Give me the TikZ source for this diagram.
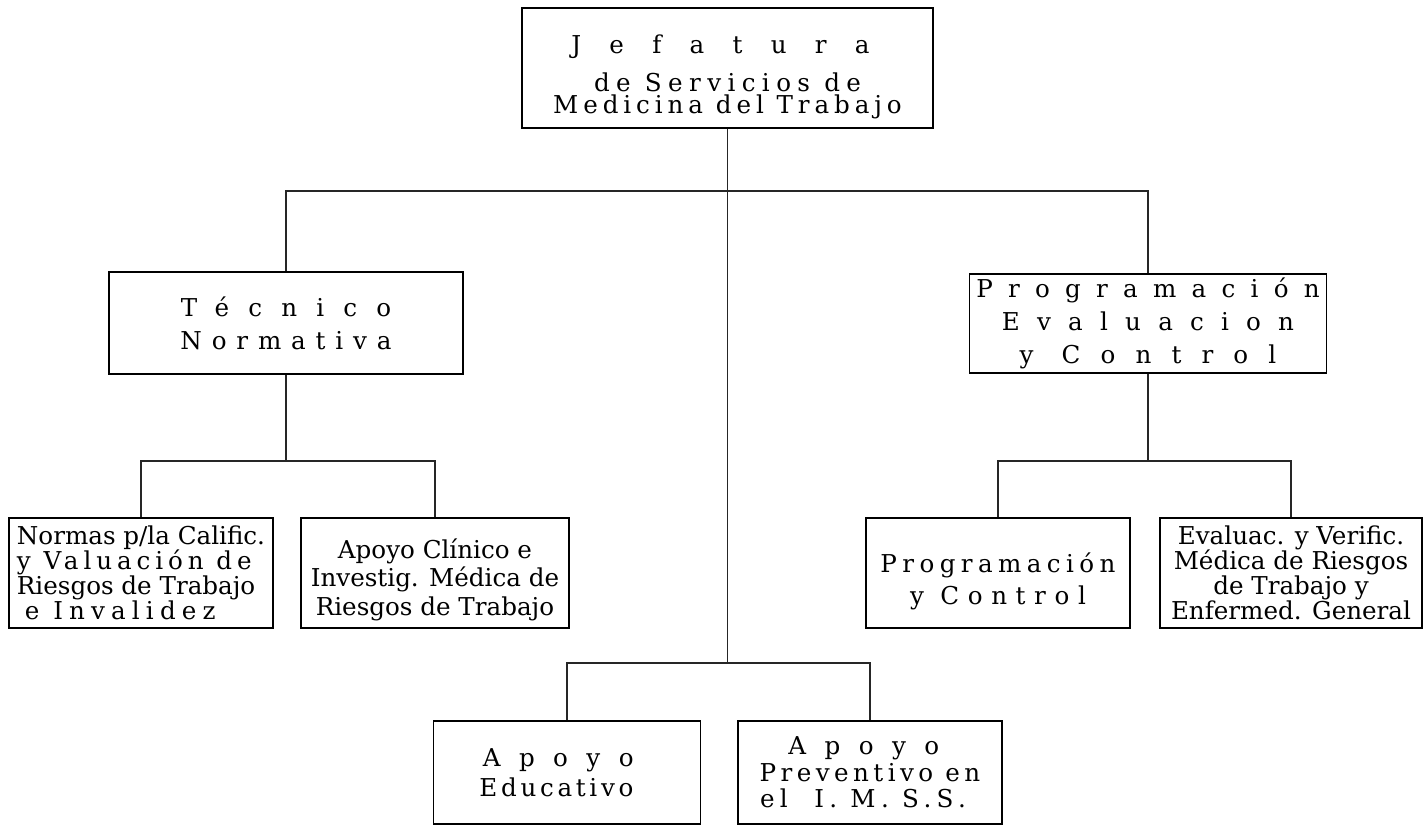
\documentclass[tikz,border=0pt]{standalone}
\usepackage{fontspec}
\setmainfont{DejaVu Serif}
\newcommand{\esp}[2]{{\addfontfeature{LetterSpace=#1}#2}}
\newcommand{\apretado}{\lineskiplimit=-20pt\relax}

\begin{document}
\begin{tikzpicture}[x=0.02cm, y=-0.02cm,
	caja/.style={draw, line width=0.75pt, align=center, inner sep=0pt,
		font=\fontsize{14}{14.2}\selectfont\apretado},
	linea/.style={line width=1.1pt, draw=black!85}]
	\useasboundingbox (0,0) rectangle (1425,827);
	% jefatura arriba
	\node[caja, minimum width=8.22cm, minimum height=2.4cm,
		font=\fontsize{14}{12.5}\selectfont\apretado] (jef) at (727.5,68)
		{\rule{0pt}{21pt}\esp{115}{Jefatura}\hspace*{8pt}\\[9pt] \esp{26}{de Servicios de}\hspace*{14pt}\\ \esp{20}{Medicina del Trabajo}};
	% segundo nivel
	\node[caja, minimum width=7.08cm, minimum height=2.04cm,
		font=\fontsize{14}{18.7}\selectfont] (tec) at (286,323)
		{\esp{78}{Técnico}\\ \esp{40}{Normativa}};
	\node[caja, minimum width=7.14cm, minimum height=1.98cm,
		font=\fontsize{14}{18.7}\selectfont] (prog) at (1148,323.5)
		{\esp{62}{Programación}\\ \esp{70}{Evaluacion}\\ \esp{82}{y Control}};
	% tercer nivel, izquierda
	\node[caja, minimum width=5.28cm, minimum height=2.2cm, align=left] (normas) at (141,573)
		{Normas p/la Calific.\\ \esp{20}{y Valuación de}\\ Riesgos de Trabajo\\ \ \esp{25}{e Invalidez}};
	\node[caja, minimum width=5.36cm, minimum height=2.2cm,
		font=\fontsize{14}{16}\selectfont\apretado] (clinico) at (435,573)
		{\rule{0pt}{19pt}Apoyo Clínico e\\ Investig. Médica de\\ Riesgos de Trabajo};
	% tercer nivel, derecha
	\node[caja, minimum width=5.28cm, minimum height=2.2cm,
		font=\fontsize{14}{18}\selectfont] (progctl) at (998,573)
		{\rule{0pt}{21pt}\esp{22}{Programación}\\ \esp{35}{y Control}};
	\node[caja, minimum width=5.24cm, minimum height=2.2cm] (evaluac) at (1291,573)
		{Evaluac. y Verific.\\ Médica de Riesgos\\ de Trabajo y\\ Enfermed. General};
	% abajo, centro
	\node[caja, minimum width=5.34cm, minimum height=2.06cm,
		font=\fontsize{14}{17}\selectfont] (educ) at (567,772.5)
		{\esp{75}{Apoyo}\hspace*{10pt}\\ \esp{15}{Educativo}\hspace*{12pt}};
	\node[caja, minimum width=5.28cm, minimum height=2.06cm,
		font=\fontsize{14}{15}\selectfont] (prev) at (870,772.5)
		{\esp{75}{Apoyo}\hspace*{7pt}\\ \esp{18}{Preventivo en}\hspace*{7pt}\\ \esp{22}{el \ I. M. S.S.}\hspace*{8pt}};
	% lineas
	\coordinate (bus1) at (727.5,191);
	\coordinate (bus2) at (286,461);
	\coordinate (bus3) at (1148,461);
	\coordinate (bus4) at (727.5,663);
	\draw[linea] (jef) -- (bus1) -- (bus4);
	\draw[linea] (bus1) -| (tec);
	\draw[linea] (bus1) -| (prog);
	\draw[linea] (tec) -- (bus2);
	\draw[linea] (bus2) -| (normas);
	\draw[linea] (bus2) -| (clinico);
	\draw[linea] (prog) -- (bus3);
	\draw[linea] (bus3) -| (progctl);
	\draw[linea] (bus3) -| (evaluac);
	\draw[linea] (bus4) -| (educ);
	\draw[linea] (bus4) -| (prev);
\end{tikzpicture}
\end{document}
